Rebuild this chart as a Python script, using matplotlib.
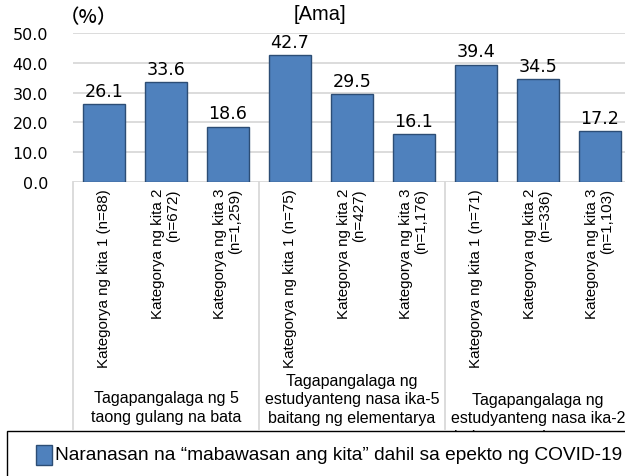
import matplotlib
matplotlib.use("Agg")
import matplotlib.pyplot as plt
from matplotlib.patches import Rectangle
from matplotlib.lines import Line2D
import matplotlib.transforms as mtransforms

values = [26.1, 33.6, 18.6, 42.7, 29.5, 16.1, 39.4, 34.5, 17.2]
categories = [
    "Kategorya ng kita 1 (n=88)", "Kategorya ng kita 2\n(n=672)", "Kategorya ng kita 3\n(n=1,259)",
    "Kategorya ng kita 1 (n=75)", "Kategorya ng kita 2\n(n=427)", "Kategorya ng kita 3\n(n=1,176)",
    "Kategorya ng kita 1 (n=71)", "Kategorya ng kita 2\n(n=336)", "Kategorya ng kita 3\n(n=1,103)",
]
groups = [
    "Tagapangalaga ng 5\ntaong gulang na bata",
    "Tagapangalaga ng\nestudyanteng nasa ika-5\nbaitang ng elementarya",
    "Tagapangalaga ng\nestudyanteng nasa ika-2\nbaitang ng elementarya",
]
yticks = [0, 10, 20, 30, 40, 50]
legend_label = "Naranasan na “mabawasan ang kita” dahil sa epekto ng COVID-19"
title = "[Ama]"

W, H = 625, 477
fig = plt.figure(figsize=(W / 100, H / 100), dpi=100)

def fx(px):
    return px / W

def fy(py):
    return 1 - py / H

ax_l, ax_r, ax_t, ax_b = 73, 631, 34, 183
ax = fig.add_axes([fx(ax_l), fy(ax_b), fx(ax_r - ax_l), (ax_b - ax_t) / H])
ax.set_xlim(-0.5, 8.5)
ax.set_ylim(0, 50)

x = list(range(len(values)))
bars = ax.bar(x, values, width=0.68, color="#4F81BD", edgecolor="#2C4D75", linewidth=1.0, zorder=3)
for xi, v in zip(x, values):
    ax.annotate(f"{v:.1f}", (xi, v), xytext=(0, 3), textcoords="offset points",
                ha="center", va="bottom", fontsize=12.6, family="DejaVu Sans", color="black")

ax.set_yticks(yticks)
ax.set_yticklabels([f"{t:.1f}" for t in yticks], fontsize=11.5, family="DejaVu Sans")
ax.tick_params(axis="y", length=0, pad=18)
ax.set_xticks([])
ax.grid(axis="y", color="#D9D9D9", linewidth=1.3, zorder=0)
for s in ax.spines.values():
    s.set_visible(False)

trans = mtransforms.blended_transform_factory(ax.transData, fig.transFigure)

# category labels
for xi, c in zip(x, categories):
    ax.text(xi, fy(189), c, transform=trans, rotation=90, ha="center", va="top",
            multialignment="right", fontsize=10.9, family="Liberation Sans", linespacing=1.1)

# separators
for sx in [-0.5, 2.5, 5.5, 8.5]:
    fig.add_artist(Line2D([sx, sx], [fy(183), fy(430)], transform=trans, color="#D9D9D9", linewidth=1.3))

group_y = [408, 400, 419]
for gi, (g, gy) in enumerate(zip(groups, group_y)):
    ax.text(gi * 3 + 1, fy(gy), g, transform=trans, ha="center", va="center",
            multialignment="center", fontsize=11.5, family="Liberation Sans", linespacing=1.32)

# title and unit
fig.text(fx(319.5), fy(15), title, ha="center", va="center", fontsize=14.5, family="Liberation Sans")
fig.text(fx(88), fy(18), "（%）", ha="center", va="center", fontsize=14, fontweight="medium",
         family=["Noto Sans CJK JP", "DejaVu Sans"])

# legend box
fig.add_artist(Rectangle((fx(7), fy(490)), fx(640 - 7), (490 - 432) / H, transform=fig.transFigure,
                         facecolor="white", edgecolor="black", linewidth=1.0, zorder=10))
fig.add_artist(Rectangle((fx(36), fy(466)), fx(16), 20 / H, transform=fig.transFigure,
                         facecolor="#4F81BD", edgecolor="#2C4D75", linewidth=1.0, zorder=11))
fig.text(fx(55), fy(456), legend_label, ha="left", va="center", fontsize=13.75,
         family="Liberation Sans", zorder=12)

fig.savefig("out.png", dpi=100)
